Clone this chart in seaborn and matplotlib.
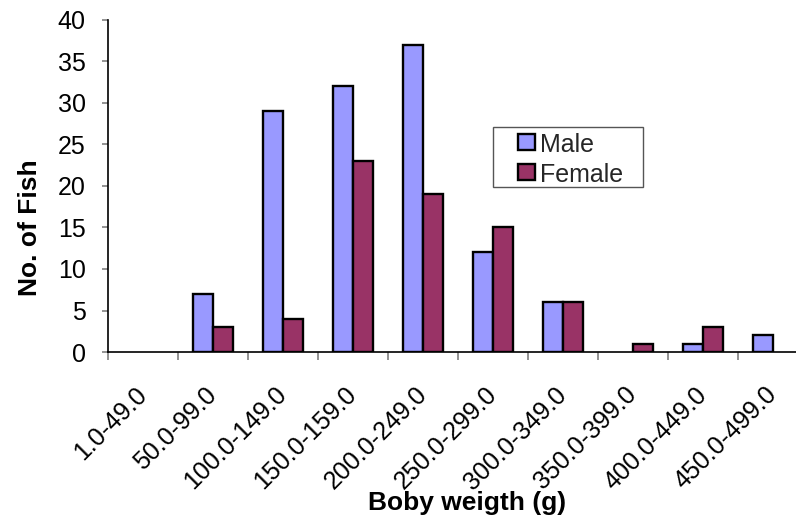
import matplotlib
matplotlib.use("Agg")
import matplotlib.pyplot as plt
import matplotlib.patches as mpatches
from matplotlib.legend_handler import HandlerPatch
import seaborn as sns
import pandas as pd
import numpy as np

categories = ["1.0-49.0", "50.0-99.0", "100.0-149.0", "150.0-159.0", "200.0-249.0",
              "250.0-299.0", "300.0-349.0", "350.0-399.0", "400.0-449.0", "450.0-499.0"]
male = [0, 7, 29, 32, 37, 12, 6, 0, 1, 2]
female = [0, 3, 4, 23, 19, 15, 6, 1, 3, 0]
series = ["Male", "Female"]
colors = ["#9999FF", "#993366"]

sns.set_theme(style="white")
plt.rcParams["font.family"] = ["Liberation Sans", "DejaVu Sans"]

W, H = 796, 518
df = pd.DataFrame({
    "cat": categories * 2,
    "val": male + female,
    "sex": ["Male"] * len(categories) + ["Female"] * len(categories),
})

fig = plt.figure(figsize=(W / 100, H / 100), dpi=100)
ax = fig.add_axes([108 / W, 1 - 352 / H, 700 / W, (352 - 20) / H])

sns.barplot(data=df, x="cat", y="val", hue="sex", hue_order=series,
            palette=colors, saturation=1, width=0.58, edgecolor="black", linewidth=1.7,
            ax=ax, legend=True)

# hide outlines of empty (zero-height) bars
for p in ax.patches:
    if isinstance(p, mpatches.Rectangle) and abs(p.get_height()) < 1e-9:
        p.set_linewidth(0)

ax.set_xlim(-0.5, len(categories) - 0.5)
ax.set_ylim(0, 40)
ax.set_yticks(np.arange(0, 41, 5))
ax.tick_params(axis="y", labelsize=18, length=4.5, width=1.2, direction="out", color="#808080",
               left=True, pad=11.5, labelcolor="black")
ax.set_xticks(range(len(categories)))
ax.set_xticklabels(categories, rotation=45, ha="right", va="center",
                   rotation_mode="anchor", fontsize=18)
ax.tick_params(axis="x", length=0, pad=28, labelcolor="black")
ax.set_xticks(np.arange(-0.5, len(categories), 1), minor=True)
ax.tick_params(axis="x", which="minor", length=6, width=1.2, color="#808080", direction="out",
               bottom=True)

for s in ["top", "right"]:
    ax.spines[s].set_visible(False)
for s in ["left", "bottom"]:
    ax.spines[s].set_color("black")
    ax.spines[s].set_linewidth(1.2)

ax.set_xlabel("Boby weigth (g)", fontsize=19, fontweight="bold", color="black")
ax.xaxis.set_label_coords((467 - 108) / 700, (352 - 491) / 332)
ax.set_ylabel("No. of Fish", fontsize=19, fontweight="bold", color="black")
ax.yaxis.set_label_coords((42 - 108) / 700, (352 - 228) / 332)


def square(legend, orig_handle, xdescent, ydescent, width, height, fontsize):
    s = 12
    return mpatches.Rectangle((-xdescent + width - s, -ydescent + (height - s) / 2 + 1), s, s)


handles, labels = ax.get_legend_handles_labels()
leg = ax.legend(handles, labels, loc="upper left",
                bbox_to_anchor=(510 / W, 1 - 133 / H), bbox_transform=fig.transFigure,
                fontsize=18, frameon=False, borderpad=0, borderaxespad=0,
                handlelength=1.0, handleheight=0.7, handletextpad=0.22, labelspacing=0.25,
                handler_map={mpatches.Rectangle: HandlerPatch(patch_func=square)})
for h in leg.legend_handles:
    h.set_edgecolor("black")
    h.set_linewidth(1.7)
leg.set_zorder(10)

frame = mpatches.Rectangle((493 / W, 1 - 187 / H), 150 / W, 60 / H, transform=fig.transFigure,
                           facecolor="white", edgecolor="#555555", linewidth=1.0, zorder=8,
                           clip_on=False)
ax.add_patch(frame)

fig.savefig("out.png", dpi=100)
